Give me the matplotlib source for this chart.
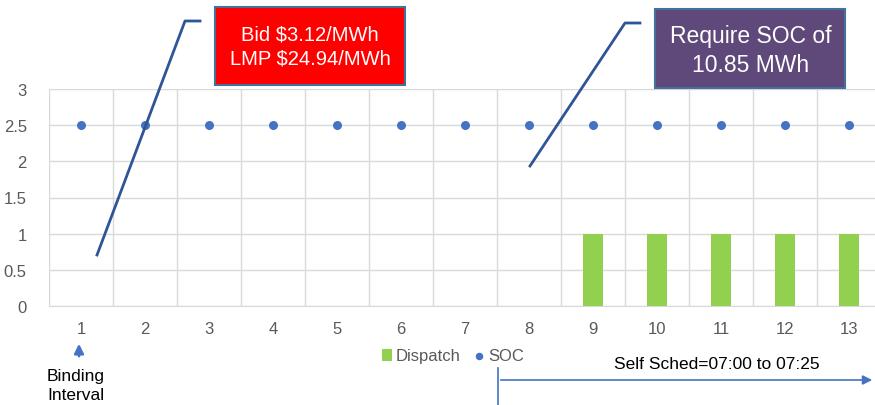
import matplotlib.pyplot as plt
from matplotlib.lines import Line2D
from matplotlib.patches import FancyArrowPatch, Rectangle
import numpy as np

# Chart data
intervals = list(range(1, 14))
dispatch = [0, 0, 0, 0, 0, 0, 0, 0, 1, 1, 1, 1, 1]
soc = [2.5] * 13
y_ticks = [0, 0.5, 1, 1.5, 2, 2.5, 3]
y_labels = ['0', '0.5', '1', '1.5', '2', '2.5', '3']

W, H = 875, 406
fig = plt.figure(figsize=(W / 100, H / 100), dpi=100)
plt.rcParams['font.family'] = ['Liberation Sans', 'DejaVu Sans']


def px(x, y):
    # pixel position (top-left origin) to figure fraction
    return x / W, 1 - y / H


# axes spans category boundaries 49 -> 881 px, y 0..3 -> 307..90 px
ax = fig.add_axes([49 / W, 1 - 307 / H, (881 - 49) / W, (307 - 90) / H])

bars = ax.bar(intervals, dispatch, width=0.31, color='#92D050', label='Dispatch', zorder=3)
dots = ax.scatter(intervals, soc, s=30, color='#4472C4', label='SOC', zorder=4)

ax.set_xlim(0.5, 13.5)
ax.set_ylim(0, 3)
ax.set_xticks(intervals)
ax.set_xticks(np.arange(0.5, 14, 1), minor=True)
ax.set_yticks(y_ticks)
ax.set_yticklabels(y_labels)
ax.grid(True, which='minor', axis='x', color='#D9D9D9', lw=1)
ax.grid(True, which='major', axis='y', color='#D9D9D9', lw=1)
ax.set_axisbelow(True)
ax.tick_params(which='both', length=0, labelsize=12, colors='#595959', pad=11)
ax.tick_params(axis='y', pad=16)
for s in ['top', 'right', 'left']:
    ax.spines[s].set_visible(False)
ax.spines['bottom'].set_color('#D9D9D9')

lx, ly = px(453, 357)
leg = ax.legend([bars, dots], ['Dispatch', 'SOC'], loc='center', bbox_to_anchor=(lx, ly),
                bbox_transform=fig.transFigure, ncol=2, frameon=False, fontsize=12,
                handlelength=0.6, handletextpad=0.25, columnspacing=0.8, markerscale=0.8)
for t in leg.get_texts():
    t.set_color('#595959')

# callout leader lines
lc = '#2F5597'
for pts in [[(97, 256), (185, 22), (200, 22)], [(530, 167), (625, 24), (640, 24)]]:
    xs, ys = zip(*[px(*p) for p in pts])
    fig.add_artist(Line2D(xs, ys, color=lc, lw=2))

# callout boxes (left, top, right, bottom in px)
for (l, t, r, b), fc in [((215, 8, 405, 86), '#FF0000'), ((655, 10, 845, 89), '#5F497A')]:
    x0, y0 = px(l, b)
    fig.add_artist(Rectangle((x0, y0), (r - l) / W, (b - t) / H, transform=fig.transFigure,
                             fc=fc, ec='#41719C', lw=1.5))
bx, by = px(310, 47)
fig.text(bx, by, 'Bid $3.12/MWh\nLMP $24.94/MWh', color='white', fontsize=14.5,
         ha='center', va='center', linespacing=1.3)
bx, by = px(751, 51)
fig.text(bx, by, 'Require SOC of\n10.85 MWh', color='white', fontsize=16.5,
         ha='center', va='center', linespacing=1.3)

# binding interval marker
fig.add_artist(FancyArrowPatch(px(79, 360), px(79, 342), arrowstyle='-|>',
                               mutation_scale=14, color='#4472C4', lw=1.8))
x0, y0 = px(47, 386)
fig.text(x0, y0, 'Binding\nInterval', fontsize=12.5, color='black', ha='left', va='center',
         linespacing=1.3)

# self schedule arrow
fig.add_artist(Line2D(*zip(px(498, 369), px(498, 406)), color='#4472C4', lw=1.2))
fig.add_artist(FancyArrowPatch(px(498, 381), px(875, 381), arrowstyle='-|>',
                               mutation_scale=14, color='#4472C4', lw=1.2))
tx, ty = px(717, 365)
fig.text(tx, ty, 'Self Sched=07:00 to 07:25', fontsize=12.5, color='black',
         ha='center', va='center')

fig.savefig('out.png', dpi=100)
